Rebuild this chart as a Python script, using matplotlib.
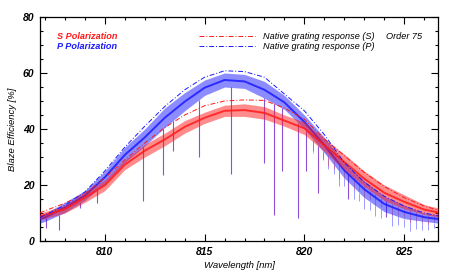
import numpy as np
import matplotlib
matplotlib.use('Agg')
import matplotlib.pyplot as plt
from matplotlib.ticker import MultipleLocator

plt.rcParams['font.family'] = ['Liberation Sans', 'DejaVu Sans']

# wavelength grid of the read-off values [nm]
wl = [806.75, 807, 808, 809, 810, 811, 812, 813, 814, 815, 816, 817,
      818, 819, 820, 821, 822, 823, 824, 825, 826, 826.7]

# measured band (lower / upper edge of the noisy trace), %
p_lo = [6.4, 7.0, 10.2, 14.5, 20.5, 28.0, 34.0, 40.5, 46.5, 52.0, 55.0, 54.5,
        51.0, 47.0, 40.0, 31.5, 22.5, 15.5, 10.5, 8.0, 7.0, 6.4]
p_hi = [9.3, 9.8, 13.8, 18.0, 25.0, 33.5, 40.0, 47.5, 53.0, 57.5, 60.0, 59.5,
        57.0, 52.0, 45.0, 37.0, 28.0, 21.5, 16.0, 12.8, 10.0, 9.3]
s_lo = [7.5, 8.0, 10.0, 13.8, 18.0, 25.5, 30.0, 34.0, 38.5, 42.0, 44.5, 44.5,
        43.5, 41.0, 38.0, 32.0, 25.5, 19.5, 14.5, 11.5, 9.5, 8.6]
s_hi = [10.0, 10.5, 12.8, 17.3, 21.8, 29.0, 34.5, 38.5, 43.0, 46.0, 48.5, 49.0,
        48.0, 45.0, 42.5, 36.5, 31.0, 25.0, 20.0, 16.5, 13.0, 11.8]

# native grating response
p_nat = [8.5, 9.2, 12.8, 17.5, 25.0, 33.5, 41.0, 48.0, 54.0, 58.5, 60.8, 60.5,
         58.5, 52.5, 46.5, 38.0, 28.0, 21.0, 16.0, 12.5, 10.0, 9.0]
s_nat = [10.0, 10.8, 13.5, 17.0, 22.5, 29.0, 35.0, 40.5, 45.0, 48.3, 50.0, 50.4,
         50.2, 47.5, 43.5, 36.5, 30.5, 24.5, 19.5, 15.5, 12.5, 11.0]

# strong absorption lines: position and bottom value
deep_wl = [807.05, 807.7, 808.75, 809.6, 811.9, 812.9, 813.4, 814.7, 816.3,
           818.0, 818.5, 818.9, 819.7, 820.1, 820.7, 822.2, 824.1]
deep_min = [4.6, 4.0, 11.8, 13.6, 14.4, 23.6, 32.0, 30.0, 24.0,
            28.0, 9.3, 25.0, 8.2, 25.0, 17.0, 14.9, 8.7]

# weak telluric lines in the red wing, depth below the band
small_wl = [820.45, 820.95, 821.2, 821.5, 821.75, 822.0, 822.5, 822.75, 823.0,
            823.3, 823.55, 823.85, 824.4, 824.7, 825.0, 825.3, 825.6, 825.9,
            826.2, 826.5]
small_d = [4, 3, 4, 3, 5, 3, 4, 3, 4, 3, 4, 3, 4, 3, 3, 4, 3, 3, 3, 2]

fig = plt.figure(figsize=(4.61, 2.77), dpi=100)
ax = fig.add_axes([0.0868, 0.130, 0.8634, 0.8086])

blue = '#1a1aff'
red = '#ff1a1a'
dash = (5, 2, 1, 2)

# absorption lines
for w, m in zip(deep_wl, deep_min):
    top = max(np.interp(w, wl, p_lo), np.interp(w, wl, s_lo))
    ax.vlines(w, m, top, color='#7a30c8', lw=0.8, alpha=0.85, zorder=2)
for w, d in zip(small_wl, small_d):
    lo = np.interp(w, wl, p_lo)
    ax.vlines(w, lo - d, lo, color=blue, lw=0.6, alpha=0.5, zorder=2)
    lo = np.interp(w, wl, s_lo)
    ax.vlines(w, lo - d, lo, color=red, lw=0.6, alpha=0.45, zorder=2)

p_mid = [(a + b) / 2 for a, b in zip(p_lo, p_hi)]
s_mid = [(a + b) / 2 for a, b in zip(s_lo, s_hi)]
ax.fill_between(wl, p_lo, p_hi, color=blue, alpha=0.5, lw=0, zorder=3)
ax.plot(wl, p_mid, color=blue, lw=1.4, alpha=0.85, zorder=3)
ax.fill_between(wl, s_lo, s_hi, color=red, alpha=0.5, lw=0, zorder=4)
ax.plot(wl, s_mid, color=red, lw=1.4, alpha=0.85, zorder=4)

ax.plot(wl, s_nat, color=red, lw=0.7, ls='-.', dashes=dash, zorder=5)
ax.plot(wl, p_nat, color=blue, lw=0.7, ls='-.', dashes=dash, zorder=5)

ax.set_xlim(806.75, 826.7)
ax.set_ylim(0, 80)
ax.xaxis.set_major_locator(MultipleLocator(5))
ax.xaxis.set_minor_locator(MultipleLocator(1))
ax.yaxis.set_major_locator(MultipleLocator(20))
ax.yaxis.set_minor_locator(MultipleLocator(5))
ax.tick_params(which='both', direction='in', top=True, right=True, width=0.8)
ax.tick_params(which='major', length=5)
ax.tick_params(which='minor', length=2.5)
ax.tick_params(axis='both', labelsize=7.5, pad=4)
for lab in ax.get_xticklabels() + ax.get_yticklabels():
    lab.set_fontweight('bold')
    lab.set_fontstyle('italic')
for s in ax.spines.values():
    s.set_linewidth(0.9)

ax.set_xlabel('Wavelength [nm]', fontsize=6.8, style='italic', labelpad=3)
ax.set_ylabel('Blaze Efficiency [%]', fontsize=6.8, style='italic', labelpad=4)

# labels / legend
ax.text(0.043, 0.915, 'S Polarization', color=red, fontsize=6.6, weight='bold',
        style='italic', transform=ax.transAxes, va='center')
ax.text(0.043, 0.8705, 'P Polarization', color=blue, fontsize=6.6, weight='bold',
        style='italic', transform=ax.transAxes, va='center')
ax.plot([0.40, 0.54], [0.915, 0.915], color=red, lw=0.7, ls='-.',
        dashes=dash, transform=ax.transAxes)
ax.plot([0.40, 0.54], [0.8705, 0.8705], color=blue, lw=0.7, ls='-.',
        dashes=dash, transform=ax.transAxes)
ax.text(0.56, 0.915, 'Native grating response (S)', fontsize=6.6,
        style='italic', transform=ax.transAxes, va='center')
ax.text(0.56, 0.8705, 'Native grating response (P)', fontsize=6.6,
        style='italic', transform=ax.transAxes, va='center')
ax.text(0.869, 0.915, 'Order 75', fontsize=6.6, style='italic',
        transform=ax.transAxes, va='center')

fig.savefig('out.png', dpi=100)
